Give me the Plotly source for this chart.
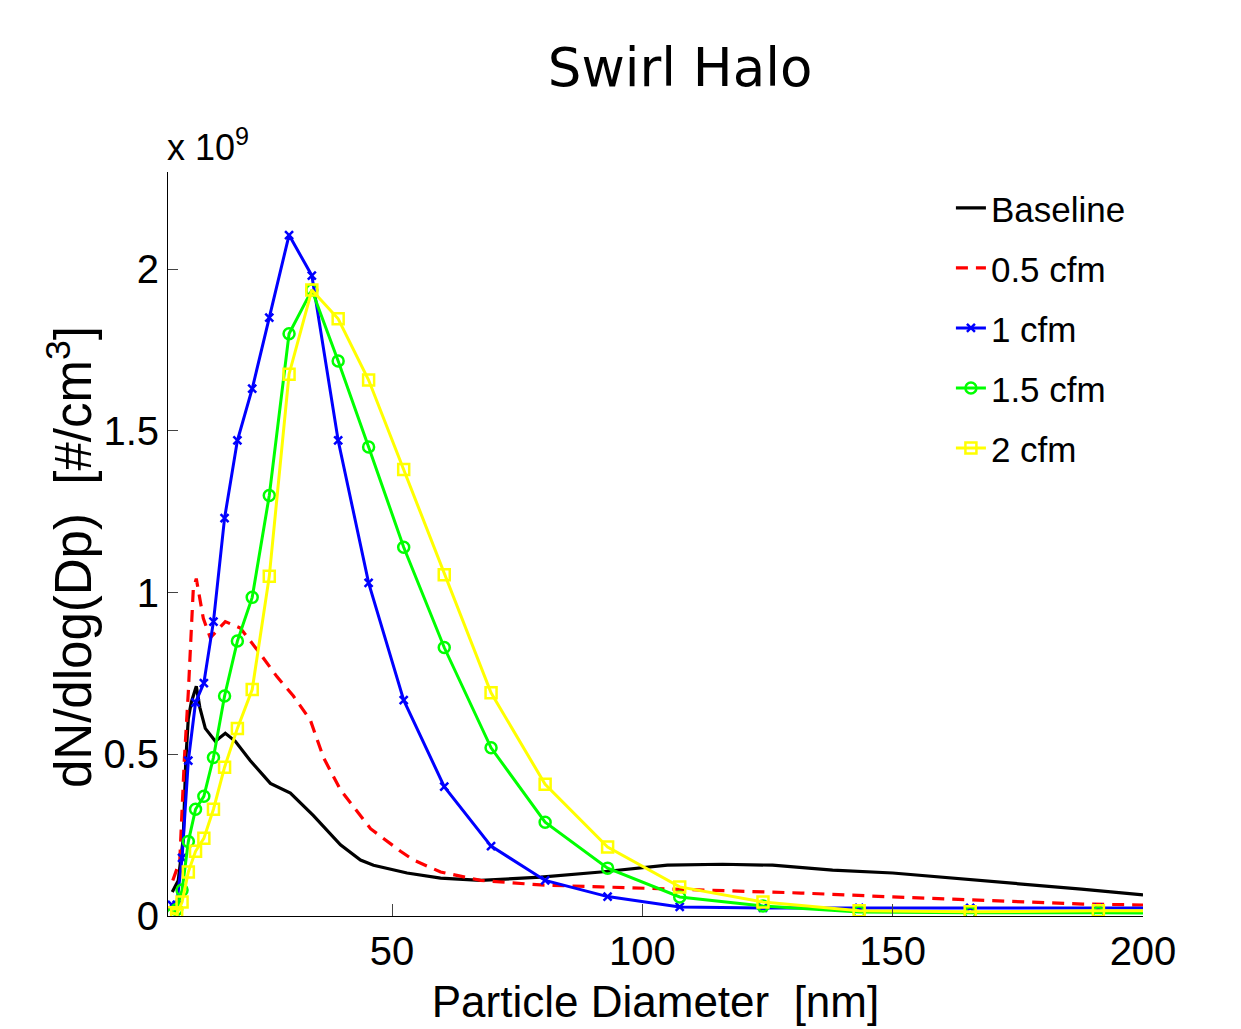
import plotly.graph_objects as go

# SMPS channel midpoints (nm) for the marker series
dp_channels = [6.04, 6.98, 8.06, 9.31, 10.75, 12.41, 14.33, 16.55, 19.11, 22.07, 25.48,
               29.43, 33.98, 39.24, 45.32, 52.33, 60.43, 69.78, 80.58, 93.06, 107.46,
               124.09, 143.30, 165.48, 191.09, 220.67]

# values in units of 1e9 #/cm^3
cfm1_y = [0.034, 0.034, 0.18, 0.48, 0.66, 0.72, 0.91, 1.23, 1.47, 1.63, 1.85,
          2.105, 1.98, 1.47, 1.03, 0.667, 0.40, 0.216, 0.11, 0.06, 0.028,
          0.025, 0.025, 0.025, 0.025, 0.025]
cfm15_y = [0.005, 0.02, 0.08, 0.23, 0.33, 0.37, 0.49, 0.68, 0.85, 0.985, 1.30,
           1.80, 1.935, 1.716, 1.45, 1.14, 0.83, 0.52, 0.29, 0.148, 0.059,
           0.031, 0.012, 0.010, 0.010, 0.008]
cfm2_y = [0.010, 0.005, 0.043, 0.136, 0.20, 0.24, 0.33, 0.46, 0.58, 0.70, 1.05,
          1.675, 1.935, 1.846, 1.657, 1.38, 1.055, 0.69, 0.407, 0.213, 0.09,
          0.043, 0.016, 0.013, 0.016, 0.016]

baseline_x = [6.1, 7.3, 8.3, 8.8, 9.3, 9.9, 10.9, 11.6, 12.7, 14.7, 16.7, 18.7, 21.7,
              25.7, 29.7, 34.3, 39.7, 43.7, 46.3, 53.0, 59.7, 67.7, 79.7, 91.7, 105,
              116, 126, 138, 150, 171.7, 187.7, 200]
baseline_y = [0.074, 0.11, 0.24, 0.48, 0.61, 0.66, 0.71, 0.645, 0.58, 0.54, 0.565, 0.54, 0.48,
              0.41, 0.38, 0.31, 0.22, 0.173, 0.157, 0.133, 0.117, 0.11, 0.12, 0.136, 0.157,
              0.16, 0.157, 0.142, 0.133, 0.105, 0.083, 0.065]

cfm05_x = [6.2, 7.6, 8.5, 9.3, 10.3, 10.9, 12.3, 13.7, 16.7, 19.7, 23.7, 27.0, 30.3,
           33.7, 36.3, 39.7, 45.7, 51.7, 54.3, 59.7, 67.7, 79.7, 91.7, 111.7, 131.7,
           150, 170, 188, 200]
cfm05_y = [0.11, 0.17, 0.48, 0.69, 1.01, 1.043, 0.92, 0.86, 0.91, 0.89, 0.81, 0.74, 0.68,
           0.605, 0.49, 0.39, 0.27, 0.20, 0.173, 0.136, 0.11, 0.096, 0.09, 0.08, 0.071,
           0.059, 0.048, 0.037, 0.034]

x_ticks = [50, 100, 150, 200]
y_ticks = [0, 0.5, 1, 1.5, 2]
y_ticklabels = ["0", "0.5", "1", "1.5", "2"]

TICKFONT = "Liberation Sans, Arial, sans-serif"
TEXTFONT = "Liberation Sans, Arial, sans-serif"

fig = go.Figure()
fig.add_trace(go.Scatter(x=baseline_x, y=baseline_y, mode="lines", name="Baseline",
                         line=dict(color="black", width=3.2), legendgroup="a"))
fig.add_trace(go.Scatter(x=cfm05_x, y=cfm05_y, mode="lines", name="0.5 cfm",
                         line=dict(color="#FF0000", width=3.2, dash="12px,8px"), legendgroup="b"))
fig.add_trace(go.Scatter(x=dp_channels, y=cfm1_y, mode="lines+markers", name="1 cfm",
                         line=dict(color="#0000FF", width=3),
                         marker=dict(symbol="x-thin", size=8, line=dict(color="#0000FF", width=2.5)),
                         legendgroup="c"))
fig.add_trace(go.Scatter(x=dp_channels, y=cfm15_y, mode="lines+markers", name="1.5 cfm",
                         line=dict(color="#00FF00", width=3),
                         marker=dict(symbol="circle-open", size=11, color="#00FF00",
                                     line=dict(color="#00FF00", width=2.5)),
                         legendgroup="d"))
fig.add_trace(go.Scatter(x=dp_channels, y=cfm2_y, mode="lines+markers", name="2 cfm",
                         line=dict(color="#FFFF00", width=3),
                         marker=dict(symbol="square-open", size=11, color="#FFFF00",
                                     line=dict(color="#FFFF00", width=2.5)),
                         legendgroup="e"))

fig.update_layout(
    width=1241, height=1029, autosize=False,
    margin=dict(l=168, r=98, t=172, b=113, autoexpand=False),
    paper_bgcolor="white", plot_bgcolor="white",
    title=dict(text="Swirl Halo", x=0.548, xanchor="center", y=0.934, yanchor="middle",
               font=dict(family="DejaVu Sans, Verdana, sans-serif", size=53, color="black")),
    showlegend=True,
    legend=dict(x=0.803, xanchor="left", y=0.991, yanchor="top",
                font=dict(family=TEXTFONT, size=35, color="black"),
                bgcolor="rgba(0,0,0,0)", borderwidth=0, tracegroupgap=11.5,
                itemwidth=30),
    xaxis=dict(range=[5.25, 200], tickvals=x_ticks, ticks="inside", ticklen=12,
               tickcolor="#444", tickwidth=1, showline=True, linecolor="black", linewidth=1,
               showgrid=False, zeroline=False, mirror=False, automargin=False,
               tickfont=dict(family=TICKFONT, size=40, color="black"),
               title=dict(text="Particle Diameter  [nm]", standoff=14,
                          font=dict(family=TEXTFONT, size=44, color="black"))),
    yaxis=dict(range=[0, 2.3], tickvals=y_ticks, ticktext=y_ticklabels, ticks="inside",
               ticklen=10, tickcolor="#444", tickwidth=1, showline=True, linecolor="black",
               linewidth=1, showgrid=False, zeroline=False, mirror=False, automargin=False,
               tickfont=dict(family=TICKFONT, size=40, color="black")),
    annotations=[
        dict(text="x 10<sup>9</sup>", xref="paper", yref="paper", x=0, y=1,
             xanchor="left", yanchor="bottom", yshift=2, xshift=-3, showarrow=False,
             font=dict(family=TICKFONT, size=36, color="black")),
        dict(text="dN/dlog(Dp)  [#/cm<sup>3</sup>]", xref="paper", yref="paper",
             x=-0.1005, y=0.4825, xanchor="center", yanchor="middle", textangle=-90,
             showarrow=False, font=dict(family=TEXTFONT, size=51, color="black")),
    ],
)

fig.write_html("out.html")
